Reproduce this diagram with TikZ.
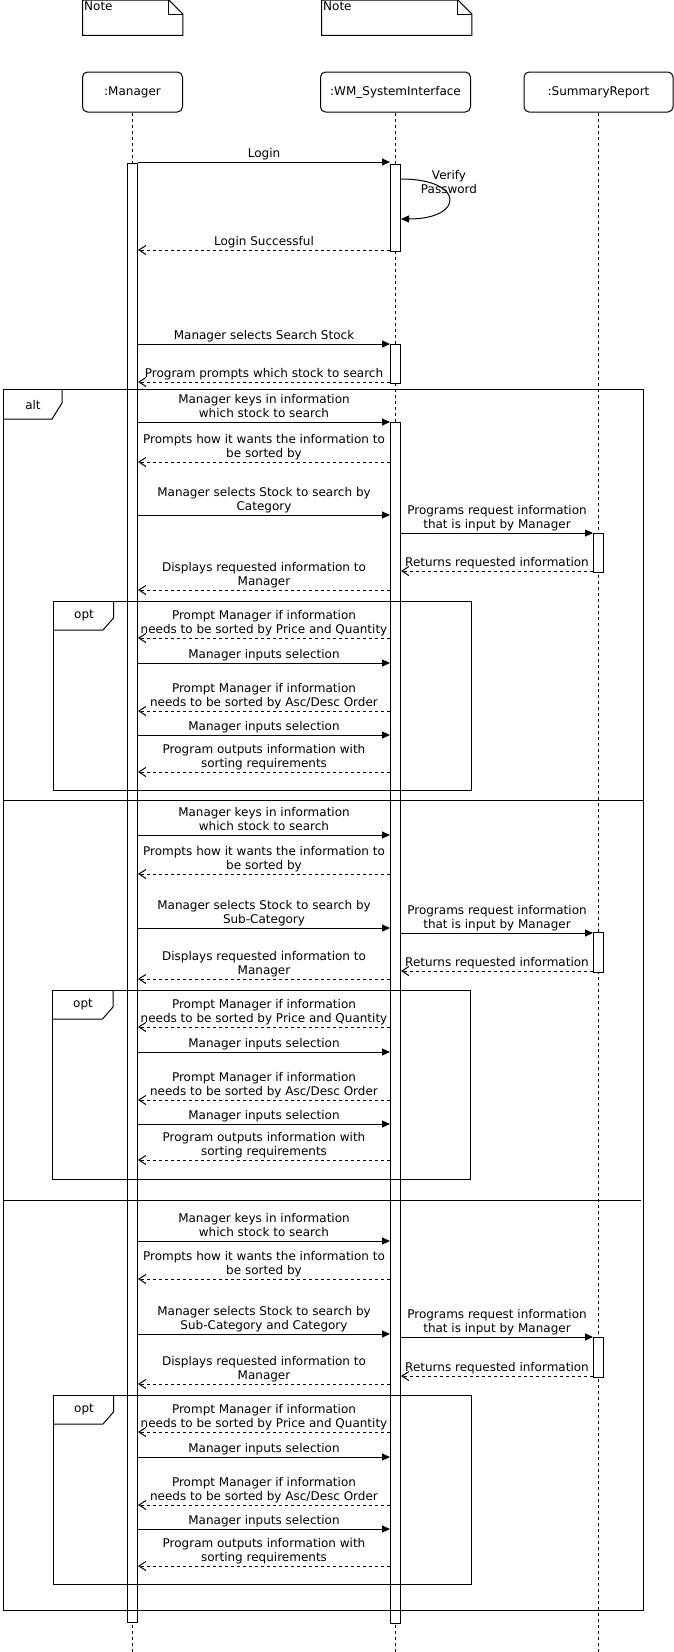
\documentclass[tikz,border=0pt]{standalone}
\usepackage{fontspec}
\setmainfont{DejaVu Sans}
\usepackage{tikz}
\usetikzlibrary{positioning,arrows.meta}
\tikzset{
  headbox/.style={draw, rounded corners=5pt, minimum height=40pt, inner sep=0pt,
                  line width=1pt, font=\fontsize{12}{14}\selectfont},
  actbar/.style={draw, fill=white, minimum width=10pt, inner sep=0pt, line width=1pt},
  notebox/.style={minimum width=100pt, minimum height=35pt, inner sep=0pt,
                  anchor=north west},
  lifeline/.style={dash pattern=on 3pt off 3pt, line width=1pt},
  framebox/.style={line width=1pt},
  tabtext/.style={font=\fontsize{12}{14}\selectfont, inner sep=0pt, align=center},
  msglabel/.style={above, align=center, inner sep=1pt, text depth=3.5pt,
                   font=\fontsize{12}{14}\selectfont},
  callarrow/.style={-{Triangle[length=8pt, width=7pt]}, line width=1pt},
  replyarrow/.style={-{Straight Barb[length=7pt, width=9pt]}, line width=1pt,
                     dash pattern=on 3pt off 3pt},
}

\begin{document}
\begin{tikzpicture}[x=1pt, y=-1pt]
\def\xMgr{132.5}   % x-position for Manager lifeline
\def\xWM{395.5}    % x-position for WM_SystemInterface lifeline
\def\xSR{598.5}    % x-position for SummaryReport lifeline
\def\yHead{92}     % y-position for lifeline heads

\useasboundingbox (0,0) rectangle (674,1652);
\coordinate (bottom) at (0,1652);

%% Notes
\node[notebox] (note1) at (82.5,0) {};
\node[notebox, minimum width=150pt] (note2) at (321.5,0) {};
\draw[framebox] (note1.south west) -- (note1.north west) -- ([xshift=-14pt]note1.north east)
  -- ([yshift=-14pt]note1.north east) -- (note1.south east) -- cycle;
\draw[framebox] ([xshift=-14pt]note1.north east) |- ([yshift=-14pt]note1.north east);
\draw[framebox] (note2.south west) -- (note2.north west) -- ([xshift=-14pt]note2.north east)
  -- ([yshift=-14pt]note2.north east) -- (note2.south east) -- cycle;
\draw[framebox] ([xshift=-14pt]note2.north east) |- ([yshift=-14pt]note2.north east);
\node[tabtext, anchor=north west] (note1txt) at ([xshift=1.5pt, yshift=-2pt]note1.north west) {Note};
\node[tabtext, anchor=north west] (note2txt) at ([xshift=1.5pt, yshift=-2pt]note2.north west) {Note};

%% Lifeline heads
\node[headbox, minimum width=100pt] (mgr) at (\xMgr,\yHead) {:Manager};
\node[headbox, minimum width=150pt] (wm) at (\xWM,\yHead) {:WM\_SystemInterface};
\node[headbox, minimum width=149pt] (sr) at (\xSR,\yHead) {:SummaryReport};
\draw[lifeline] (mgr) -- (mgr |- bottom);
\draw[lifeline] (wm) -- (wm |- bottom);
\draw[lifeline] (sr) -- (sr |- bottom);

%% Activation bars
\node[actbar, anchor=north, minimum height=1459pt] (mgrAct) at (mgr |- 0,163) {};
\node[actbar, anchor=north, minimum height=87pt] (wmAct1) at (wm |- 0,164) {};
\node[actbar, anchor=north, minimum height=39pt] (wmAct2) at (wm |- 0,344) {};
\node[actbar, anchor=north, minimum height=1201pt] (wmAct3) at (wm |- 0,422) {};
\node[actbar, anchor=north, minimum height=39pt] (srAct1) at (sr |- 0,533) {};
\node[actbar, anchor=north, minimum height=40pt] (srAct2) at (sr |- 0,932) {};
\node[actbar, anchor=north, minimum height=40pt] (srAct3) at (sr |- 0,1337) {};

%% Frames
\draw[framebox] (3,389) rectangle (643,1610);
\draw[framebox] (3,419) -- (52,419) -- (62,403) -- (62,389);
\node[tabtext] (altlabel) at (33,405) {alt};
\draw[framebox] (3,800) -- (643,800);
\draw[framebox] (3,1200) -- (641,1200);
\draw[framebox] (53,601) rectangle (471,790);
\draw[framebox] (53,630) -- (103,630) -- (113.5,618) -- (113.5,601);
\node[tabtext] (opt1label) at (84,616) {opt};
\draw[framebox] (52.5,990) rectangle (470,1179);
\draw[framebox] (52.5,1019) -- (102.5,1019) -- (113,1007) -- (113,990);
\node[tabtext] (opt2label) at (83,1005) {opt};
\draw[framebox] (53,1395) rectangle (471,1584);
\draw[framebox] (53,1424) -- (103,1424) -- (113.5,1412) -- (113.5,1395);
\node[tabtext] (opt3label) at (84,1410) {opt};

%% Login
\draw[callarrow] (mgrAct.east |- 0,162) -- node[msglabel] {Login} (wmAct1.west |- 0,162);
\draw[callarrow] (wmAct1.east |- 0,179) .. controls (465,179) and (465,219) .. (wmAct1.east |- 0,219);
\node[tabtext] (verify) at (449,182.5) {Verify\\Password};
\draw[replyarrow] (wmAct1.west |- 0,250) -- node[msglabel] {Login Successful} (mgrAct.east |- 0,250);
\draw[callarrow] (mgrAct.east |- 0,344) -- node[msglabel] {Manager selects Search Stock} (wmAct2.west |- 0,344);
\draw[replyarrow] (wmAct2.west |- 0,382) -- node[msglabel] {Program prompts which stock to search} (mgrAct.east |- 0,382);

%% Search by Category
\draw[callarrow] (mgrAct.east |- 0,422) -- node[msglabel] {Manager keys in information\\which stock to search} (wmAct3.west |- 0,422);
\draw[replyarrow] (wmAct3.west |- 0,462) -- node[msglabel] {Prompts how it wants the information to\\be sorted by} (mgrAct.east |- 0,462);
\draw[callarrow] (mgrAct.east |- 0,515) -- node[msglabel] {Manager selects Stock to search by\\Category} (wmAct3.west |- 0,515);
\draw[callarrow] (wmAct3.east |- 0,533) -- node[msglabel] {Programs request information\\that is input by Manager} (srAct1.west |- 0,533);
\draw[replyarrow] (srAct1.west |- 0,571) -- node[msglabel] {Returns requested information} (wmAct3.east |- 0,571);
\draw[replyarrow] (wmAct3.west |- 0,590) -- node[msglabel] {Displays requested information to\\Manager} (mgrAct.east |- 0,590);
\draw[replyarrow] (wmAct3.west |- 0,638) -- node[msglabel] {Prompt Manager if information\\needs to be sorted by Price and Quantity} (mgrAct.east |- 0,638);
\draw[callarrow] (mgrAct.east |- 0,663) -- node[msglabel] {Manager inputs selection} (wmAct3.west |- 0,663);
\draw[replyarrow] (wmAct3.west |- 0,711) -- node[msglabel] {Prompt Manager if information\\needs to be sorted by Asc/Desc Order} (mgrAct.east |- 0,711);
\draw[callarrow] (mgrAct.east |- 0,735) -- node[msglabel] {Manager inputs selection} (wmAct3.west |- 0,735);
\draw[replyarrow] (wmAct3.west |- 0,772) -- node[msglabel] {Program outputs information with\\sorting requirements} (mgrAct.east |- 0,772);

%% Search by Sub-Category
\draw[callarrow] (mgrAct.east |- 0,835) -- node[msglabel] {Manager keys in information\\which stock to search} (wmAct3.west |- 0,835);
\draw[replyarrow] (wmAct3.west |- 0,874) -- node[msglabel] {Prompts how it wants the information to\\be sorted by} (mgrAct.east |- 0,874);
\draw[callarrow] (mgrAct.east |- 0,928) -- node[msglabel] {Manager selects Stock to search by\\Sub-Category} (wmAct3.west |- 0,928);
\draw[callarrow] (wmAct3.east |- 0,933) -- node[msglabel] {Programs request information\\that is input by Manager} (srAct2.west |- 0,933);
\draw[replyarrow] (srAct2.west |- 0,971) -- node[msglabel] {Returns requested information} (wmAct3.east |- 0,971);
\draw[replyarrow] (wmAct3.west |- 0,979) -- node[msglabel] {Displays requested information to\\Manager} (mgrAct.east |- 0,979);
\draw[replyarrow] (wmAct3.west |- 0,1027) -- node[msglabel] {Prompt Manager if information\\needs to be sorted by Price and Quantity} (mgrAct.east |- 0,1027);
\draw[callarrow] (mgrAct.east |- 0,1052) -- node[msglabel] {Manager inputs selection} (wmAct3.west |- 0,1052);
\draw[replyarrow] (wmAct3.west |- 0,1100) -- node[msglabel] {Prompt Manager if information\\needs to be sorted by Asc/Desc Order} (mgrAct.east |- 0,1100);
\draw[callarrow] (mgrAct.east |- 0,1124) -- node[msglabel] {Manager inputs selection} (wmAct3.west |- 0,1124);
\draw[replyarrow] (wmAct3.west |- 0,1160) -- node[msglabel] {Program outputs information with\\sorting requirements} (mgrAct.east |- 0,1160);

%% Search by Sub-Category and Category
\draw[callarrow] (mgrAct.east |- 0,1241) -- node[msglabel] {Manager keys in information\\which stock to search} (wmAct3.west |- 0,1241);
\draw[replyarrow] (wmAct3.west |- 0,1279) -- node[msglabel] {Prompts how it wants the information to\\be sorted by} (mgrAct.east |- 0,1279);
\draw[callarrow] (mgrAct.east |- 0,1334) -- node[msglabel] {Manager selects Stock to search by\\Sub-Category and Category} (wmAct3.west |- 0,1334);
\draw[callarrow] (wmAct3.east |- 0,1337) -- node[msglabel] {Programs request information\\that is input by Manager} (srAct3.west |- 0,1337);
\draw[replyarrow] (srAct3.west |- 0,1376) -- node[msglabel] {Returns requested information} (wmAct3.east |- 0,1376);
\draw[replyarrow] (wmAct3.west |- 0,1384) -- node[msglabel] {Displays requested information to\\Manager} (mgrAct.east |- 0,1384);
\draw[replyarrow] (wmAct3.west |- 0,1432) -- node[msglabel] {Prompt Manager if information\\needs to be sorted by Price and Quantity} (mgrAct.east |- 0,1432);
\draw[callarrow] (mgrAct.east |- 0,1457) -- node[msglabel] {Manager inputs selection} (wmAct3.west |- 0,1457);
\draw[replyarrow] (wmAct3.west |- 0,1505) -- node[msglabel] {Prompt Manager if information\\needs to be sorted by Asc/Desc Order} (mgrAct.east |- 0,1505);
\draw[callarrow] (mgrAct.east |- 0,1529) -- node[msglabel] {Manager inputs selection} (wmAct3.west |- 0,1529);
\draw[replyarrow] (wmAct3.west |- 0,1566) -- node[msglabel] {Program outputs information with\\sorting requirements} (mgrAct.east |- 0,1566);
\end{tikzpicture}
\end{document}
